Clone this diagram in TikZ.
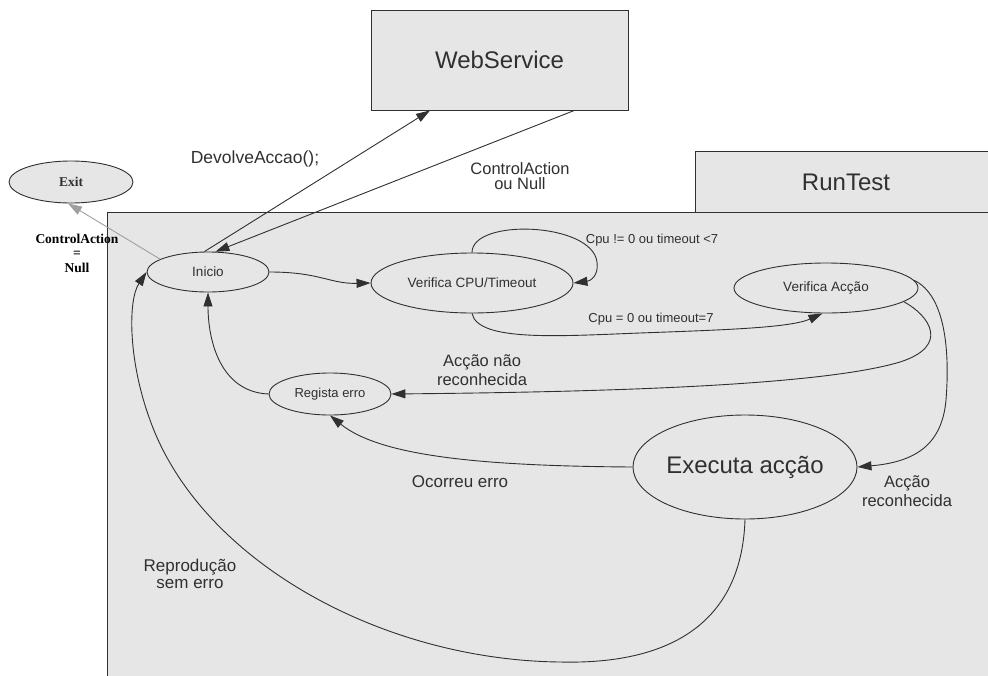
\documentclass[tikz,border=0pt]{standalone}
\usepackage{fontspec}
\setmainfont{Liberation Sans}
\newfontfamily\serifbold{Liberation Serif}
\usetikzlibrary{shapes.geometric,arrows.meta}

\definecolor{panel}{HTML}{E6E6E6}
\definecolor{ink}{HTML}{303030}

\tikzset{
  every picture/.style={x=1pt,y=-1pt},
  state/.style={ellipse,draw=ink,line width=0.9pt,fill=panel,inner sep=0pt,text=ink},
  block/.style={rectangle,draw=ink,line width=0.9pt,fill=panel,inner sep=0pt,text=ink},
  flow/.style={draw=ink,line width=0.9pt,-{Triangle[length=14pt,width=9pt]}},
  plain/.style={draw=ink,line width=0.9pt},
  lbl/.style={text=ink,align=center,inner sep=0pt},
}

\newcommand{\fs}[1]{\fontsize{#1}{#1}\selectfont}

\begin{document}
\begin{tikzpicture}
\clip (0,0) rectangle (988,675);
\useasboundingbox (0,0) rectangle (988,675);
\fill[white] (0,0) rectangle (988,675);

% RunTest container and its header tab
\draw[plain,fill=panel] (107,212) rectangle (1000,690);
\draw[plain,fill=panel] (695,151) rectangle (1000,212);
\node[lbl] (rtitle) at (846,182) {\fs{24}RunTest};

% WebService box
\node[block,minimum width=257pt,minimum height=100pt] (ws) at (499.5,60) {\fs{24}WebService};

% States
\node[state,minimum width=124pt,minimum height=42pt] (exit) at (71,182) {\serifbold\bfseries\fs{13.5}Exit};
\node[state,minimum width=122pt,minimum height=40pt] (ini) at (208,272) {\fs{13.5}Inicio};
\node[state,minimum width=202pt,minimum height=60pt] (cpu) at (472,283) {\fs{13.5}Verifica CPU/Timeout};
\node[state,minimum width=184pt,minimum height=50pt] (va) at (826,288) {\fs{13.5}Verifica Acção};
\node[state,minimum width=224pt,minimum height=104pt] (exe) at (745,467) {\fs{24}Executa acção};
\node[state,minimum width=122pt,minimum height=42pt] (reg) at (330,394) {\fs{13}Regista erro};

% Calls to and from the web service
\draw[flow] (ini.100) -- (ws.216);
\draw[flow] (ws.326.5) -- (ini.70);
\node[lbl] (ldev) at (255,159) {\fs{17.5}DevolveAccao();};
\node[lbl] (lca) at (520,176) {\fs{16.5}ControlAction\\[2pt]\fs{16.5}ou Null};

% Leaving to Exit
\draw[flow,draw=gray!75] (ini.165) -- (exit.262);
\node[lbl,text=black] (lnull) at (77,253) {\serifbold\bfseries\fs{13.5}ControlAction\\[2.5pt]\serifbold\bfseries\fs{13.5}=\\[2.5pt]\serifbold\bfseries\fs{13.5}Null};

% Inicio -> Verifica CPU/Timeout
\draw[flow] (ini.east) .. controls (320,272) and (330,284) .. (cpu.west);

% Waiting loop on the CPU check
\draw[flow] (cpu.north) .. controls (472,218) and (592,222) .. (597,262)
            .. controls (599,276) and (590,281) .. (cpu.east);
\node[lbl] (lwait) at (652,240) {\fs{13}Cpu != 0 ou timeout <7};

% CPU check -> Verifica Acção
\draw[flow] (cpu.south) .. controls (478,342) and (560,336) .. (640,333)
            .. controls (720,330) and (790,328) .. (va.262);
\node[lbl] (lgo) at (651,319) {\fs{13}Cpu = 0 ou timeout=7};

% Unknown action -> Regista erro
\draw[flow] (va.350) .. controls (930,316) and (950,346) .. (900,362)
            .. controls (820,386) and (600,392) .. (reg.east);
\node[lbl] (lnr) at (482,370) {\fs{16.5}Acção não\\[3pt]\fs{16.5}reconhecida};

% Known action -> Executa acção
\draw[flow] (va.5) .. controls (945,295) and (950,350) .. (946,400)
            .. controls (942,445) and (915,462) .. (exe.east);
\node[lbl] (lrec) at (907,491) {\fs{16.5}Acção\\[3pt]\fs{16.5}reconhecida};

% Error while executing -> Regista erro
\draw[flow] (exe.west) .. controls (480,466) and (380,456) .. (reg.south);
\node[lbl] (lerr) at (460,482) {\fs{17}Ocorreu erro};

% Regista erro -> Inicio
\draw[flow] (reg.west) .. controls (220,392) and (208,340) .. (ini.south);

% Successful replay -> Inicio
\draw[flow] (exe.south) .. controls (742,615) and (680,665) .. (560,662)
            .. controls (380,660) and (200,560) .. (150,420)
            .. controls (128,360) and (128,300) .. (ini.west);
\node[lbl] (lrep) at (190,574) {\fs{17}Reprodução\\[4pt]\fs{17}sem erro};
\end{tikzpicture}
\end{document}
